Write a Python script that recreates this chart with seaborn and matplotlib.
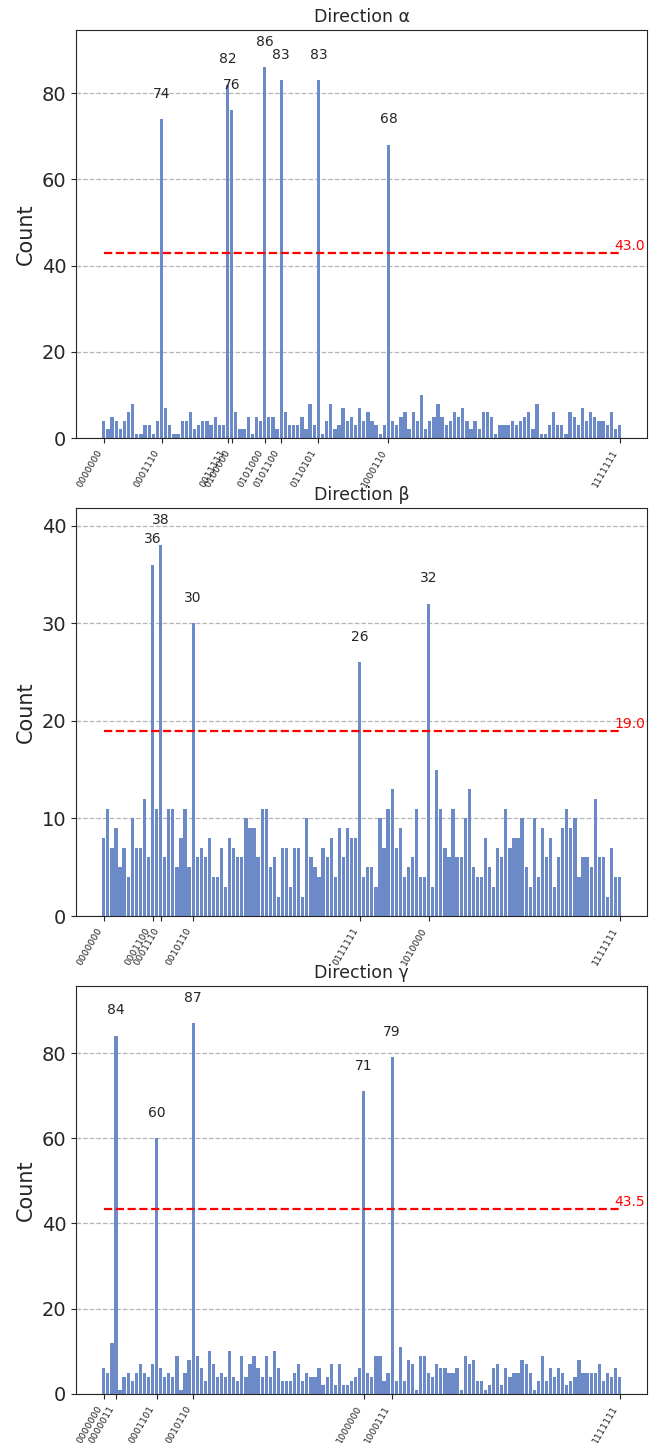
import pandas as pd
import matplotlib
matplotlib.use('Agg')
import matplotlib.pyplot as plt
from matplotlib.ticker import MaxNLocator
import seaborn as sns

sns.set_style('ticks')
plt.rcParams['font.family'] = ['DejaVu Sans']

titles = ['Direction α', 'Direction β', 'Direction γ']

# counts per measured 7-bit state (states with zero counts are not drawn)
counts_a = [4, 2, 5, 4, 2, 4, 6, 8, 1, 1, 3, 3, 1, 4,
            74,
            7, 3, 1, 1, 4, 4, 6, 2, 3, 4, 4, 3, 5, 3, 3,
            82, 76,
            6, 2, 2, 5, 1, 5, 4,
            86,
            5, 5, 2,
            83,
            6, 3, 3, 3, 5, 2, 8, 3,
            83,
            1, 4, 8, 2, 3, 7, 4, 5, 3, 7,
            4, 6, 4, 3, 1, 3,
            68,
            4, 3, 5, 6, 2, 6, 4, 10, 2, 4, 5, 8, 5, 3, 4, 6, 5, 7, 4, 2, 4, 2, 6, 6, 5, 1,
            3, 3, 3, 4, 3, 4, 5, 6, 2, 8, 1, 1, 3, 6, 3, 3, 1, 6, 5, 3, 7, 4, 6, 5, 4, 4, 3, 6, 2, 3]
absent_a = ['0010011', '1100101']

counts_b = [8, 11, 7, 9, 5, 7, 4, 10, 7, 7, 12, 6,
            36, 11, 38, 6, 11, 11, 5, 8, 11, 5, 30,
            6, 7, 6, 8, 4, 4, 7, 3, 8, 7, 6, 6, 10, 9, 9, 6, 11, 11, 5, 6, 2, 7,
            7, 3, 7, 7, 2, 10, 6, 5, 4, 7, 6, 8, 4, 9, 6, 9, 8, 8,
            26,
            4, 5, 5, 3, 10, 7, 11, 13, 7, 9, 4, 5, 6, 11, 4, 4,
            32,
            3, 15, 11, 7, 6, 11, 6, 6, 10, 13, 5, 4, 4, 8, 5, 3, 7, 6, 11, 7, 8, 8, 10, 5,
            3, 10, 4, 9, 6, 8, 3, 6, 9, 11, 9, 10, 4, 6, 6, 5, 12, 6, 6, 2, 7, 4, 4]
absent_b = []

counts_g = [6, 5, 12,
            84,
            1, 4, 5, 3, 5, 7, 5, 4, 7,
            60,
            6, 4, 5, 4, 9, 1, 5, 8,
            87,
            9, 6, 3, 10, 7, 4, 5, 4, 10, 4, 3, 9, 4, 7, 9, 6, 4, 9, 4, 10, 6, 3, 3, 3,
            5, 7, 3, 5, 4, 4, 6, 2, 4, 7, 2, 7, 2, 2, 3, 4, 6,
            71,
            5, 4, 9, 9, 3, 5,
            79,
            3, 11, 3, 8, 7, 1, 9, 9, 5, 4, 7, 6, 6, 5, 5, 6, 1, 9, 7, 8, 3, 3, 1, 2, 6, 7,
            2, 6, 4, 5, 5, 8, 7, 5, 1, 3, 9, 3, 6, 4, 6, 5, 2, 3, 4, 8, 5, 5, 5, 5, 7, 3, 5, 4, 6, 4]
absent_g = []

all_states = [format(i, '07b') for i in range(128)]

fig, axes = plt.subplots(3, 1, figsize=(6.57, 14.43), dpi=100)
fig.subplots_adjust(left=0.116, right=0.985, top=0.979, bottom=0.034, hspace=0.172)

for ax, title, counts, absent in zip(axes, titles,
                                     [counts_a, counts_b, counts_g],
                                     [absent_a, absent_b, absent_g]):
    states = [s for s in all_states if s not in absent]
    df = pd.DataFrame({'state': states, 'count': counts})
    n = len(states)
    top = max(counts)
    thr = top / 2

    sns.barplot(data=df, x='state', y='count', order=states, color='#6c8ac7',
                saturation=1, width=0.8, linewidth=0, edgecolor='none', ax=ax)

    pad = 0.05 * (n - 0.2)
    ax.set_xlim(-0.4 - pad, n - 0.6 + pad)
    ax.set_ylim(0, top * 1.1)
    ax.yaxis.set_major_locator(MaxNLocator(5))

    # threshold line
    ax.hlines(thr, 0, n - 1, colors='red', linestyles='--', lw=1.6)
    ax.text(n - 2.2, thr, f'{thr:.1f}', color='red', fontsize=10, ha='left', va='bottom')

    peaks = [i for i, c in enumerate(counts) if c > thr]
    for i in peaks:
        ax.text(i, counts[i] + 0.05 * top, str(counts[i]), ha='center', va='bottom', fontsize=10)

    ticks = [0] + peaks + [n - 1]
    ax.set_xticks(ticks)
    ax.set_xticklabels([states[i] for i in ticks], rotation=60, ha='right', fontsize=6.8)

    ax.set_title(title, fontsize=12.5)
    ax.set_xlabel('')
    ax.set_ylabel('Count', fontsize=15)
    ax.tick_params(axis='y', labelsize=14)
    ax.yaxis.grid(True, linestyle='--', color='#b5b5b5', lw=0.9)
    ax.set_axisbelow(True)

fig.savefig('out.png', dpi=100)
